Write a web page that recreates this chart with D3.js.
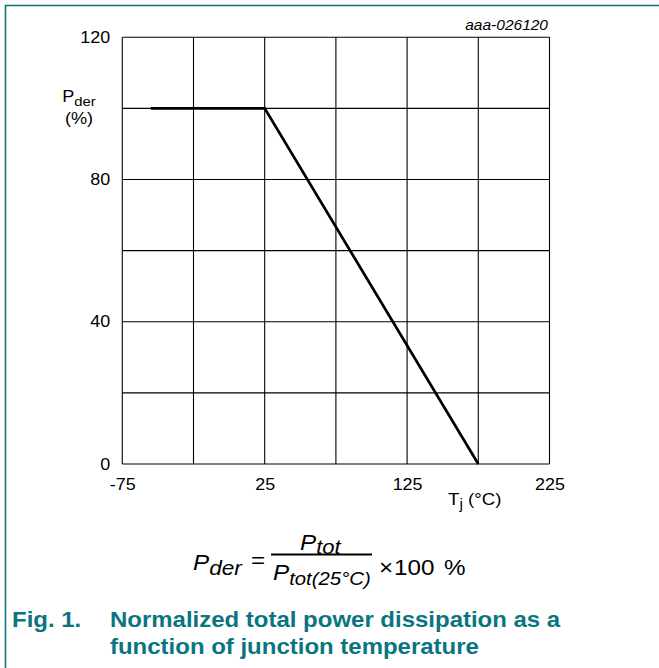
<!DOCTYPE html>
<html>
<head>
<meta charset="utf-8">
<script src="https://cdn.jsdelivr.net/npm/d3@7"></script>
<style>
  html, body { margin: 0; padding: 0; background: #fff; }
  svg { display: block; font-family: "Liberation Sans", Arial, Helvetica, sans-serif; }
</style>
</head>
<body>
<svg id="chart" width="659" height="668"></svg>
<script>
// ---- data ----
const tempValues = [-55, 25, 175];          // Tj (°C)
const pderValues = [100, 100, 0];           // Pder (%)
const xTickLabels = [-75, 25, 125, 225];
const yTickLabels = [0, 40, 80, 120];
const xGridValues = [-75, -25, 25, 75, 125, 175, 225];
const yGridValues = [0, 20, 40, 60, 80, 100, 120];
const xDomain = [-75, 225];
const yDomain = [0, 120];
const figCode = "aaa-026120";
const titleLines = ["Normalized total power dissipation as a", "function of junction temperature"];
const figLabel = "Fig. 1.";

const teal = "#0a7580";
const SX = 1.1; // horizontal stretch of the reference lettering
const svg = d3.select("#chart");

function placeText(parent, px, py) {
  return parent.append("text").attr("transform", `translate(${px},${py}) scale(${SX},1)`);
}

const x = d3.scaleLinear().domain(xDomain).range([122.3, 549.5]);
const y = d3.scaleLinear().domain(yDomain).range([464, 37.3]);

// outer frame (left and top)
svg.append("path")
  .attr("d", "M5.5,668 L5.5,5.5 L659,5.5")
  .attr("fill", "none").attr("stroke", teal).attr("stroke-width", 1.6);

// grid
const grid = svg.append("g");
grid.selectAll("line.v").data(xGridValues).join("line").attr("class", "v")
  .attr("x1", d => x(d)).attr("x2", d => x(d))
  .attr("y1", y(yDomain[0])).attr("y2", y(yDomain[1]))
  .attr("stroke", "#000").attr("stroke-width", 1.1);
grid.selectAll("line.h").data(yGridValues).join("line").attr("class", "h")
  .attr("y1", d => y(d)).attr("y2", d => y(d))
  .attr("x1", x(xDomain[0])).attr("x2", x(xDomain[1]))
  .attr("stroke", "#000").attr("stroke-width", 1.1);

// axes (labels only)
const xAxis = svg.append("g").attr("transform", `translate(0,${y(0)})`)
  .call(d3.axisBottom(x).tickValues(xTickLabels).tickSize(0).tickPadding(14.5).tickFormat(d => String(d)));
const yAxis = svg.append("g").attr("transform", `translate(${x(-75)},0)`)
  .call(d3.axisLeft(y).tickValues(yTickLabels).tickSize(0).tickPadding(11).tickFormat(d => String(d)));
[xAxis, yAxis].forEach(a => {
  a.select(".domain").remove();
  a.selectAll("text").attr("font-size", 16.3).attr("fill", "#000")
    .attr("font-family", "'Liberation Sans', Arial, sans-serif")
    .attr("transform", `scale(${SX},1)`);
});

// data line
const pts = tempValues.map((t, i) => [t, pderValues[i]]);
svg.append("path")
  .datum(pts)
  .attr("d", d3.line().x(d => x(d[0])).y(d => y(d[1])))
  .attr("fill", "none").attr("stroke", "#000").attr("stroke-width", 2.7)
  .attr("stroke-linejoin", "miter");

// figure code
svg.append("text").attr("x", 548).attr("y", 30).attr("text-anchor", "end")
  .attr("font-size", 15.5).attr("font-style", "italic").text(figCode);

// y-axis label
const yl = placeText(svg, 79, 102).attr("text-anchor", "middle").attr("font-size", 16.5);
yl.append("tspan").text("P");
yl.append("tspan").attr("font-size", 13.5).attr("dy", 4).text("der");
placeText(svg, 79, 124).attr("text-anchor", "middle").attr("font-size", 16.5).text("(%)");

// x-axis label
const xl = placeText(svg, 448, 505).attr("font-size", 17);
xl.append("tspan").text("T");
xl.append("tspan").attr("font-size", 14).attr("dy", 4).text("j");
xl.append("tspan").attr("dy", -4).text(" (°C)");

// formula
const fs = 22;
const f1 = placeText(svg, 193, 570).attr("font-size", fs).attr("font-style", "italic");
f1.append("tspan").text("P");
f1.append("tspan").attr("font-size", 20.5).attr("dy", 5).text("der");
placeText(svg, 251, 568).attr("font-size", fs).text("=");
const fn = placeText(svg, 300, 550).attr("font-size", fs).attr("font-style", "italic");
fn.append("tspan").text("P");
fn.append("tspan").attr("font-size", 20).attr("dy", 4).text("tot");
svg.append("line").attr("x1", 271).attr("x2", 372).attr("y1", 554.5).attr("y2", 554.5)
  .attr("stroke", "#000").attr("stroke-width", 2);
const fd = placeText(svg, 273, 580).attr("font-size", fs).attr("font-style", "italic");
fd.append("tspan").text("P");
fd.append("tspan").attr("font-size", 18.5).attr("dy", 5).text("tot(25°C)");
placeText(svg, 379, 575).attr("font-size", fs).text("×");
placeText(svg, 394, 575).attr("font-size", fs).text("100");
placeText(svg, 444, 575).attr("font-size", fs).text("%");

// caption
const cap = svg.append("g").attr("fill", teal).attr("font-weight", "bold").attr("font-size", 21.8);
placeText(cap, 12, 627).text(figLabel);
titleLines.forEach((t, i) => placeText(cap, 110, 627 + i * 27).text(t));
</script>
</body>
</html>
